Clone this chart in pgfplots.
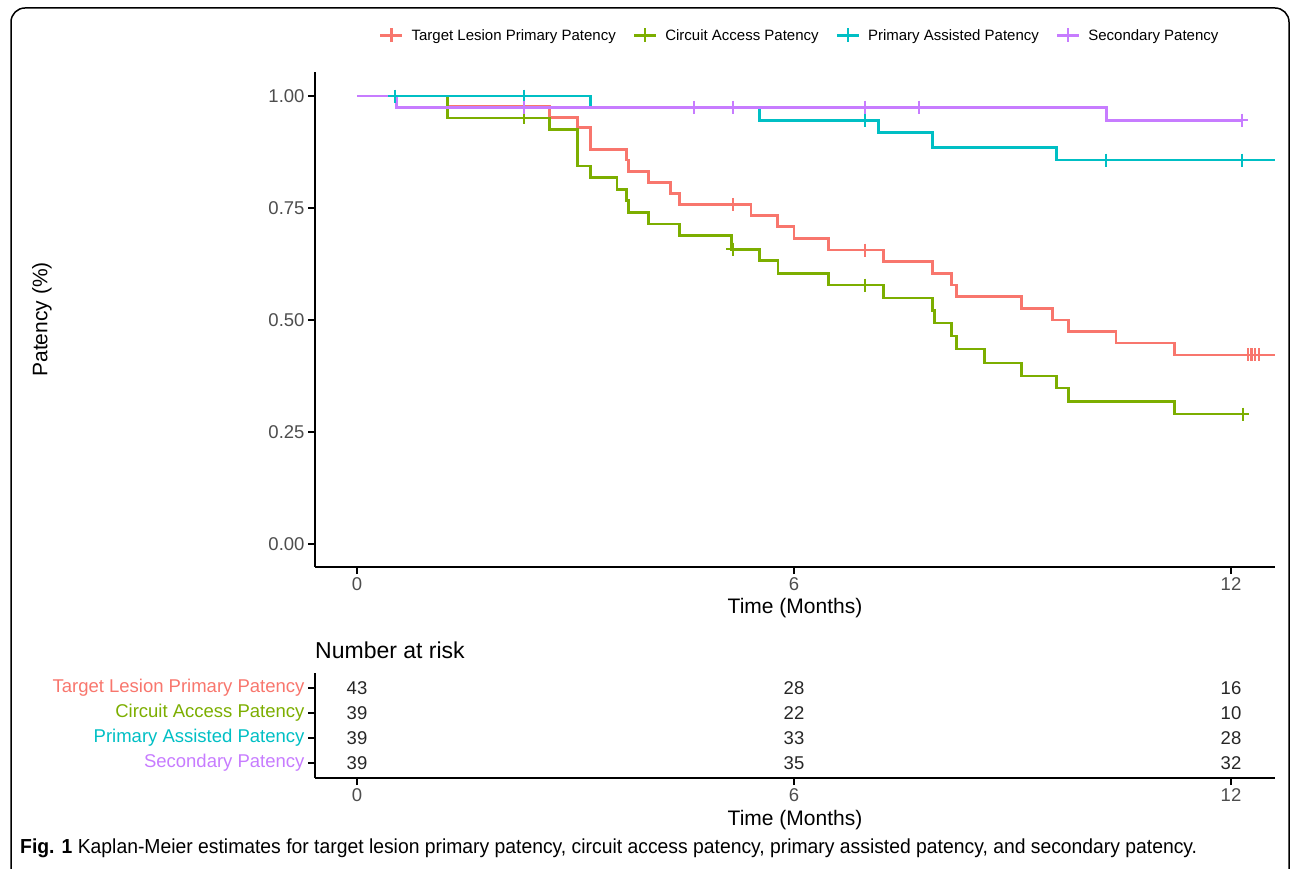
\documentclass[border=0pt]{standalone}
\usepackage{pgfplots}
\pgfplotsset{compat=1.18}
\usepackage{fontspec}
\setmainfont{Liberation Sans}
\definecolor{kmred}{HTML}{F8766D}
\definecolor{kmgreen}{HTML}{7CAE00}
\definecolor{kmcyan}{HTML}{00BFC4}
\definecolor{kmpurple}{HTML}{C77CFF}
\definecolor{tickgrey}{HTML}{4D4D4D}
\newcommand{\fs}[1]{\fontsize{#1pt}{#1pt}\selectfont}
\pgfplotsset{
  kmline/.style={const plot, line width=2.7pt, mark=none},
  kmcens/.style={only marks, mark=+, mark size=6.5pt, line width=2.2pt},
}
\begin{document}
\begin{tikzpicture}[x=1pt,y=1pt]
\useasboundingbox (0,0) rectangle (1291,868);
\draw[line width=1.5pt, rounded corners=14pt] (11,-30) rectangle (1289,860);

\begin{axis}[
  at={(315pt,301pt)}, anchor=south west,
  width=960pt, height=495pt, scale only axis,
  xmin=-0.5767, xmax=12.604, ymin=-0.0513, ymax=1.0536,
  axis lines=left, axis line style={-, line width=1.1pt, black},
  tick align=outside, major tick length=7pt,
  tick style={black, line width=1.1pt},
  xtick={0,6,12}, xticklabels={0,6,12},
  ytick={0,0.25,0.5,0.75,1}, yticklabels={0.00,0.25,0.50,0.75,1.00},
  /pgf/number format/assume math mode=true,
  ticklabel style={font=\fs{18.5}, text=tickgrey},
  xlabel={Time (Months)}, ylabel={Patency (\%)},
  every axis x label/.style={at={(axis description cs:0.5,-0.0828)}, anchor=center, font=\fs{21}},
  every axis y label/.style={at={(axis description cs:-0.2844,0.5)}, rotate=90, anchor=center, font=\fs{21}},
  legend columns=4,
  legend style={draw=none, fill=none, font=\fs{15}, at={(axis description cs:0.505,1.074)}, anchor=center,
    /tikz/every odd column/.append style={column sep=6pt},
    /tikz/every even column/.append style={column sep=15pt}},
  legend image code/.code={\draw[mark repeat=2, mark phase=2, #1] plot coordinates {(0pt,0pt) (11pt,0pt) (22pt,0pt)};},
]
% Target Lesion Primary Patency
\addplot[kmline, kmred, forget plot] coordinates {
(0,1) (1.24,0.977) (2.64,0.952) (3.03,0.929) (3.21,0.881) (3.70,0.857) (3.73,0.831) (4.00,0.807) (4.30,0.783) (4.43,0.758) (5.41,0.733) (5.77,0.708) (6.00,0.682) (6.47,0.656) (7.23,0.630) (7.90,0.604) (8.16,0.578) (8.23,0.552) (9.12,0.526) (9.55,0.500) (9.77,0.474) (10.42,0.449) (11.22,0.422) (12.604,0.422)};
\addplot[kmcens, kmred, forget plot] coordinates {
(2.29,0.977) (5.16,0.758) (6.98,0.656) (12.23,0.422) (12.28,0.422) (12.33,0.422) (12.38,0.422)};
% Circuit Access Patency
\addplot[kmline, kmgreen, forget plot] coordinates {
(0,1) (1.24,0.951) (2.64,0.926) (3.03,0.844) (3.21,0.818) (3.57,0.792) (3.70,0.766) (3.73,0.740) (4.00,0.714) (4.43,0.688) (5.14,0.658) (5.53,0.633) (5.78,0.604) (6.47,0.578) (7.23,0.549) (7.90,0.521) (7.93,0.493) (8.16,0.464) (8.23,0.435) (8.62,0.404) (9.12,0.375) (9.60,0.348) (9.77,0.318) (11.22,0.290) (12.16,0.290)};
\addplot[kmcens, kmgreen, forget plot] coordinates {
(2.29,0.951) (5.16,0.658) (6.98,0.578) (12.16,0.290)};
% Primary Assisted Patency
\addplot[kmline, kmcyan, forget plot] coordinates {
(0,1) (3.21,0.975) (5.53,0.946) (7.16,0.918) (7.90,0.885) (9.60,0.857) (12.604,0.857)};
\addplot[kmcens, kmcyan, forget plot] coordinates {
(0.52,1) (2.29,1) (6.98,0.946) (10.28,0.857) (12.15,0.857)};
% Secondary Patency
\addplot[kmline, kmpurple, forget plot] coordinates {
(0,1) (0.545,0.975) (10.29,0.946) (12.15,0.946)};
\addplot[kmcens, kmpurple, forget plot] coordinates {
(2.29,0.975) (4.63,0.975) (5.16,0.975) (6.98,0.975) (7.72,0.975) (12.15,0.946)};

\addlegendimage{kmred, line width=2.4pt, mark=+, mark size=7pt}
\addlegendentry{Target Lesion Primary Patency}
\addlegendimage{kmgreen, line width=2.4pt, mark=+, mark size=7pt}
\addlegendentry{Circuit Access Patency}
\addlegendimage{kmcyan, line width=2.4pt, mark=+, mark size=7pt}
\addlegendentry{Primary Assisted Patency}
\addlegendimage{kmpurple, line width=2.4pt, mark=+, mark size=7pt}
\addlegendentry{Secondary Patency}
\end{axis}

\begin{axis}[
  at={(315pt,90pt)}, anchor=south west,
  width=960pt, height=105pt, scale only axis,
  xmin=-0.5767, xmax=12.604, ymin=0.4, ymax=4.6,
  axis lines=left, axis line style={-, line width=1.1pt, black},
  tick align=outside, major tick length=7pt,
  tick style={black, line width=1.1pt},
  xtick={0,6,12}, xticklabels={0,6,12},
  ytick={1,2,3,4},
  yticklabels={\textcolor{kmpurple}{Secondary Patency},\textcolor{kmcyan}{Primary Assisted Patency},\textcolor{kmgreen}{Circuit Access Patency},\textcolor{kmred}{Target Lesion Primary Patency}},
  /pgf/number format/assume math mode=true,
  ticklabel style={font=\fs{18.5}, text=tickgrey},
  xlabel={Time (Months)},
  every axis x label/.style={at={(axis description cs:0.5,-0.4)}, anchor=center, font=\fs{21}},
  title={Number at risk},
  every axis title/.style={at={(axis description cs:0,1)}, anchor=base west, yshift=14pt, inner sep=0pt, font=\fs{23}},
]
\addplot[only marks, mark=none, nodes near coords, point meta=explicit symbolic,
  every node near coord/.append style={anchor=center, font=\fs{18.5}, text=black!85}]
  table[meta=n] {
x y n
0 4 43
6 4 28
12 4 16
0 3 39
6 3 22
12 3 10
0 2 39
6 2 33
12 2 28
0 1 39
6 1 35
12 1 32
};
\end{axis}

\node[anchor=west, inner sep=0pt] at (20,19.5) {\resizebox*{1177pt}{19pt}{\fs{20}\textbf{Fig. 1} Kaplan-Meier estimates for target lesion primary patency, circuit access patency, primary assisted patency, and secondary patency.}};
\end{tikzpicture}
\end{document}
